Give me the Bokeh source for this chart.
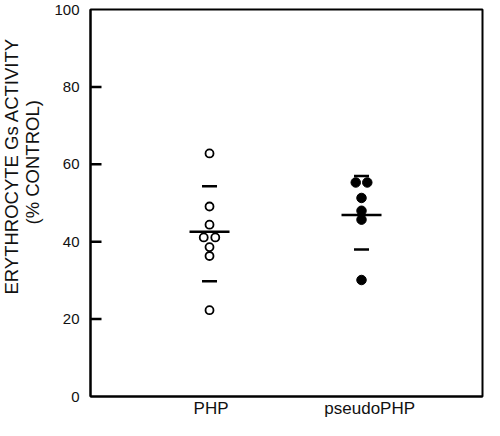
import numpy as np
from bokeh.plotting import figure
from bokeh.models import Range1d, FixedTicker, Title
from bokeh.embed import file_html
from bokeh.resources import INLINE

# ---- data ----
groups = ["PHP", "pseudoPHP"]
group_pos = [1, 2]
php_values = [62.8, 49.1, 44.4, 41.1, 41.1, 38.6, 36.3, 22.3]
pseudo_values = [55.3, 55.3, 51.3, 48.0, 45.7, 30.1]
group_means = [42.6, 46.9]
sd_upper = [54.3, 57.0]
sd_lower = [29.8, 38.0]
y_ticks = [0, 20, 40, 60, 80, 100]
y_label_lines = ["ERYTHROCYTE Gs ACTIVITY", "(% CONTROL)"]

FONT = "Liberation Sans"
W, H = 484, 420
BORDER_L, BORDER_R = 90, 2
X0, X1 = 0.217, 2.796
label_nudge = [0.01, 0.054]   # category labels sit slightly right of their columns
TICK_PX = 11                  # inward tick length in pixels


def spread(values, center, step=0.038, tol=1.0):
    """Place tied values side by side around the group centre."""
    out = [center] * len(values)
    used = [False] * len(values)
    for i, v in enumerate(values):
        if used[i]:
            continue
        idx = [j for j in range(len(values)) if not used[j] and abs(values[j] - v) < tol]
        n = len(idx)
        for k, j in enumerate(idx):
            out[j] = center + (k - (n - 1) / 2) * 2 * step
            used[j] = True
    return out


php_x = spread(php_values, group_pos[0])
pseudo_x = spread(pseudo_values, group_pos[1])

p = figure(width=W, height=H, output_backend="svg", toolbar_location=None,
           title=None, x_range=Range1d(X0, X1), y_range=Range1d(0, 100),
           min_border_left=BORDER_L, min_border_right=BORDER_R, min_border_top=9,
           min_border_bottom=21)
p.background_fill_color = "white"
p.border_fill_color = "white"
p.grid.visible = False
p.outline_line_color = "black"
p.outline_line_width = 2

ya = p.yaxis[0]
ya.ticker = FixedTicker(ticks=y_ticks)
ya.major_tick_in = 0
ya.major_tick_out = 0
ya.minor_tick_line_color = None
ya.minor_tick_out = 0
ya.axis_line_width = 2
ya.major_label_text_font = FONT
ya.major_label_text_font_size = "15px"
ya.major_label_text_color = "#111111"
ya.major_label_standoff = 11

label_ticks = [g + n for g, n in zip(group_pos, label_nudge)]
xa = p.xaxis[0]
xa.ticker = FixedTicker(ticks=label_ticks)
xa.major_label_overrides = {t: name for t, name in zip(label_ticks, groups)}
xa.major_tick_line_color = None
xa.major_tick_in = 0
xa.major_tick_out = 0
xa.minor_tick_line_color = None
xa.minor_tick_in = 0
xa.minor_tick_out = 0
xa.axis_line_width = 2
xa.major_label_text_font = FONT
xa.major_label_text_font_size = "17px"
xa.major_label_text_color = "#111111"
xa.major_label_standoff = 2

# inward y ticks: short dashes whose left end touches the frame edge
px_per_unit = (W - BORDER_L - BORDER_R) / (X1 - X0)
tick_x = X0 + (TICK_PX / 2) / px_per_unit
inner_ticks = [t for t in y_ticks if 0 < t < 100]
p.scatter(x=[tick_x] * len(inner_ticks), y=inner_ticks, marker="dash",
          size=TICK_PX, line_color="black", line_width=2.5)

# individual values
p.scatter(x=php_x, y=php_values, marker="circle", size=8,
          fill_color="white", line_color="black", line_width=1.8)
p.scatter(x=pseudo_x, y=pseudo_values, marker="circle", size=9.5,
          fill_color="black", line_color="black", line_width=1)

# mean and +/- SD markers
p.scatter(x=group_pos, y=group_means, marker="dash", size=40,
          line_color="black", line_width=2.5)
p.scatter(x=group_pos + group_pos, y=sd_upper + sd_lower, marker="dash", size=15,
          line_color="black", line_width=2.5)

# two-line y-axis title (second line nearer the axis)
for text, off, so in zip(y_label_lines[::-1], [172, 102], [18, -22]):
    p.add_layout(Title(text=text, align="left", offset=off, standoff=so,
                       text_font=FONT, text_font_size="18.5px",
                       text_font_style="normal", text_color="#111111"), "left")

open("out.html", "w").write(file_html(p, INLINE))
